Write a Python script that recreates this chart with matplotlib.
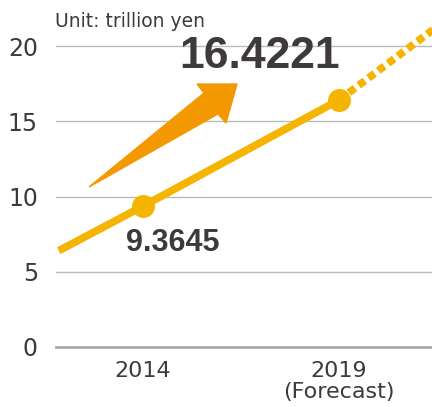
import matplotlib
matplotlib.use("Agg")
import matplotlib.pyplot as plt
from matplotlib.patches import Polygon

# values (trillion yen)
solid_years = [2011.85, 2014, 2019]
solid_values = [6.4, 9.3645, 16.4221]
forecast_years = [2019, 2021.4]
forecast_values = [16.4221, 21.1]
point_years = [2014, 2019]
point_values = [9.3645, 16.4221]
tick_years = [2014, 2019]
tick_labels = ["2014", "2019\n(Forecast)"]
y_ticks = [0, 5, 10, 15, 20]

W, H = 432, 407
line_col = "#F5B400"
arrow_col = "#F39800"
text_col = "#3E3A39"

fig = plt.figure(figsize=(W / 100, H / 100), dpi=100)
ax = fig.add_axes([56 / W, 60 / H, 376 / W, 347 / H])
ax.set_xlim(2011.78, 2021.37)
ax.set_ylim(0, 23.07)

for s in ["top", "right", "left"]:
    ax.spines[s].set_visible(False)
ax.spines["bottom"].set_color("#AAAAAA")
ax.spines["bottom"].set_linewidth(2)

ax.set_yticks(y_ticks)
ax.set_yticklabels([str(v) for v in y_ticks])
ax.set_xticks(tick_years)
ax.set_xticklabels(tick_labels, linespacing=1.05)
ax.tick_params(axis="y", length=0, pad=13, labelsize=17, labelcolor=text_col)
ax.tick_params(axis="x", length=0, pad=10, labelsize=16, labelcolor=text_col)
ax.grid(axis="y", color="#BBBBBB", linewidth=1)
ax.set_axisbelow(True)

ax.plot(solid_years, solid_values, color=line_col, lw=5.5, solid_capstyle="butt", zorder=3)
ax.plot(forecast_years, forecast_values, color=line_col, lw=5.5,
        linestyle=(0, (1.0, 0.6)), dash_capstyle="butt", zorder=3)
ax.plot(point_years, point_values, "o", color=line_col, ms=15.5, zorder=4)

ax.text(2014.77, 6.38, "9.3645", ha="center", va="baseline", fontsize=22,
        fontweight="bold", family="Liberation Sans", color=text_col)
ax.text(2016.98, 18.55, "16.4221", ha="center", va="baseline", fontsize=32,
        fontweight="bold", family="Liberation Sans", color=text_col)

# decorative growth arrow, outline in figure pixels
arrow_px = [(89, 187), (204, 93), (197, 84), (237, 84), (226, 123), (218, 114)]
pts = [(x / W, 1 - y / H) for x, y in arrow_px]
fig.patches.append(Polygon(pts, closed=True, color=arrow_col,
                           transform=fig.transFigure, zorder=2))

fig.text(55 / W, 1 - 27 / H, "Unit: trillion yen", ha="left", va="baseline",
         fontsize=13.5, color=text_col)

fig.savefig("out.png", dpi=100)
